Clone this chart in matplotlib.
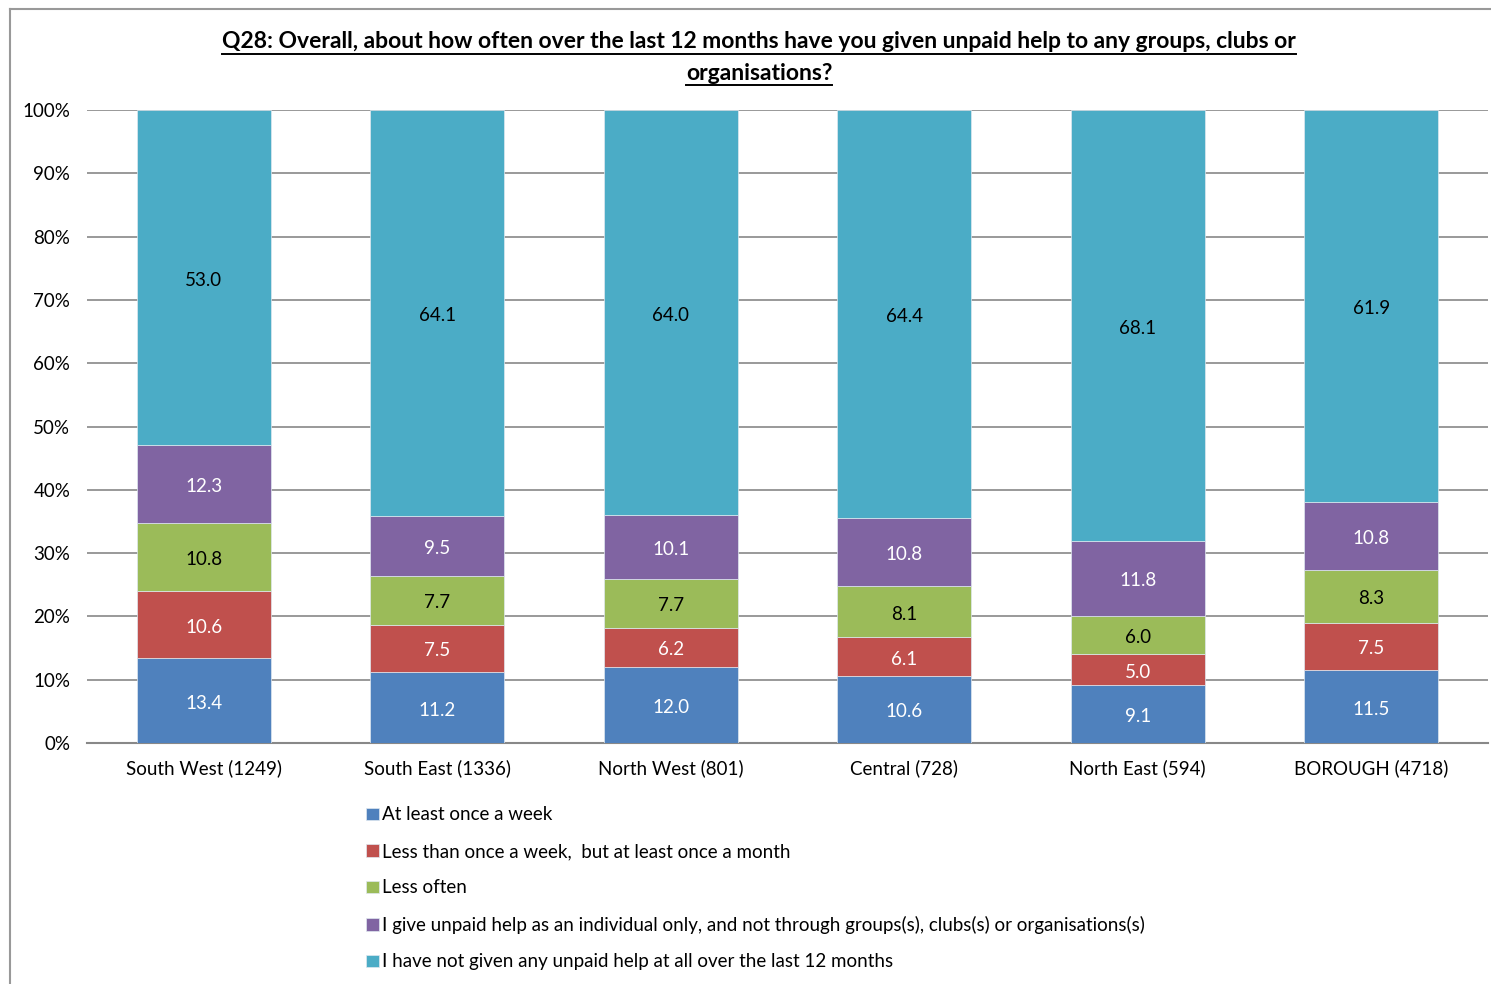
import numpy as np
import matplotlib.pyplot as plt
from matplotlib.lines import Line2D

plt.rcParams['font.family'] = ['Lato', 'DejaVu Sans']

# Data
areas = ['South West (1249)', 'South East (1336)', 'North West (801)',
         'Central (728)', 'North East (594)', 'BOROUGH (4718)']
series_names = ['At least once a week',
                'Less than once a week,  but at least once a month',
                'Less often',
                'I give unpaid help as an individual only, and not through groups(s), clubs(s) or organisations(s)',
                'I have not given any unpaid help at all over the last 12 months']
weekly = [13.4, 11.2, 12.0, 10.6, 9.1, 11.5]
monthly = [10.6, 7.5, 6.2, 6.1, 5.0, 7.5]
less_often = [10.8, 7.7, 7.7, 8.1, 6.0, 8.3]
individual = [12.3, 9.5, 10.1, 10.8, 11.8, 10.8]
none_given = [53.0, 64.1, 64.0, 64.4, 68.1, 61.9]

colors = ['#4F81BD', '#C0504D', '#9BBB59', '#8064A2', '#4BACC6']
label_colors = ['white', 'white', 'black', 'white', 'black']

values = np.array([weekly, monthly, less_often, individual, none_given])
shares = values / values.sum(axis=0) * 100

W, H = 1491, 984
fig = plt.figure(figsize=(W / 100, H / 100), dpi=100)
ax = fig.add_axes([87 / W, 1 - 743 / H, (1488 - 87) / W, (743 - 110) / H])

x = np.arange(len(areas))
bottom = np.zeros(len(areas))
for i in range(len(series_names)):
    ax.bar(x, shares[i], 0.574, bottom=bottom, color=colors[i],
           edgecolor='#dfe8f0', linewidth=0.5, label=series_names[i], zorder=3)
    for j in range(len(areas)):
        # labels sit a touch below the segment middle, as in the original
        ax.text(x[j], bottom[j] + shares[i][j] / 2 - 0.4, '%.1f' % values[i][j],
                ha='center', va='center', fontsize=13.5, color=label_colors[i], zorder=4)
    bottom += shares[i]

ax.set_xlim(-0.5, 5.5)
ax.set_ylim(0, 100)
ax.set_yticks(np.arange(0, 101, 10))
ax.set_yticklabels(['%d%%' % v for v in range(0, 101, 10)], fontsize=13.5)
ax.set_xticks(x)
ax.set_xticklabels(areas, fontsize=13.5)
ax.tick_params(axis='x', length=0, pad=12, colors='black')
ax.tick_params(axis='y', length=0, pad=12, colors='black')
ax.grid(axis='y', color='#888888', linewidth=1.2, zorder=0)
for s in ['left', 'right', 'top']:
    ax.spines[s].set_visible(False)
ax.spines['bottom'].set_color('#888888')
ax.spines['bottom'].set_linewidth(1.5)

# Legend below the plot
fig.legend(loc='upper left', bbox_to_anchor=(357 / W, 1 - 797 / H), frameon=False,
           fontsize=13.5, handlelength=0.65, handleheight=0.65, handletextpad=0.2,
           labelspacing=1.04, borderpad=0)

# Title, bold and underlined
title_lines = ['Q28: Overall, about how often over the last 12 months have you given unpaid help to any groups, clubs or',
               'organisations?']
title_y = [42, 73]
title_texts = []
for line, yp in zip(title_lines, title_y):
    t = fig.text(759 / W, 1 - yp / H, line, ha='center', va='center',
                 fontsize=16.5, fontweight='bold')
    title_texts.append(t)

fig.canvas.draw()
renderer = fig.canvas.get_renderer()
for t in title_texts:
    bb = t.get_window_extent(renderer)
    y0 = bb.y0 - 1
    fig.add_artist(Line2D([bb.x0 / W, bb.x1 / W], [y0 / H, y0 / H],
                          color='black', linewidth=1.4))

# Chart border
fig.add_artist(Line2D([10 / W, 10 / W], [0, 1 - 9 / H], color='#999999', linewidth=1.5))
fig.add_artist(Line2D([10 / W, 1], [1 - 9 / H, 1 - 9 / H], color='#999999', linewidth=1.5))

fig.savefig('out.png', dpi=100)
